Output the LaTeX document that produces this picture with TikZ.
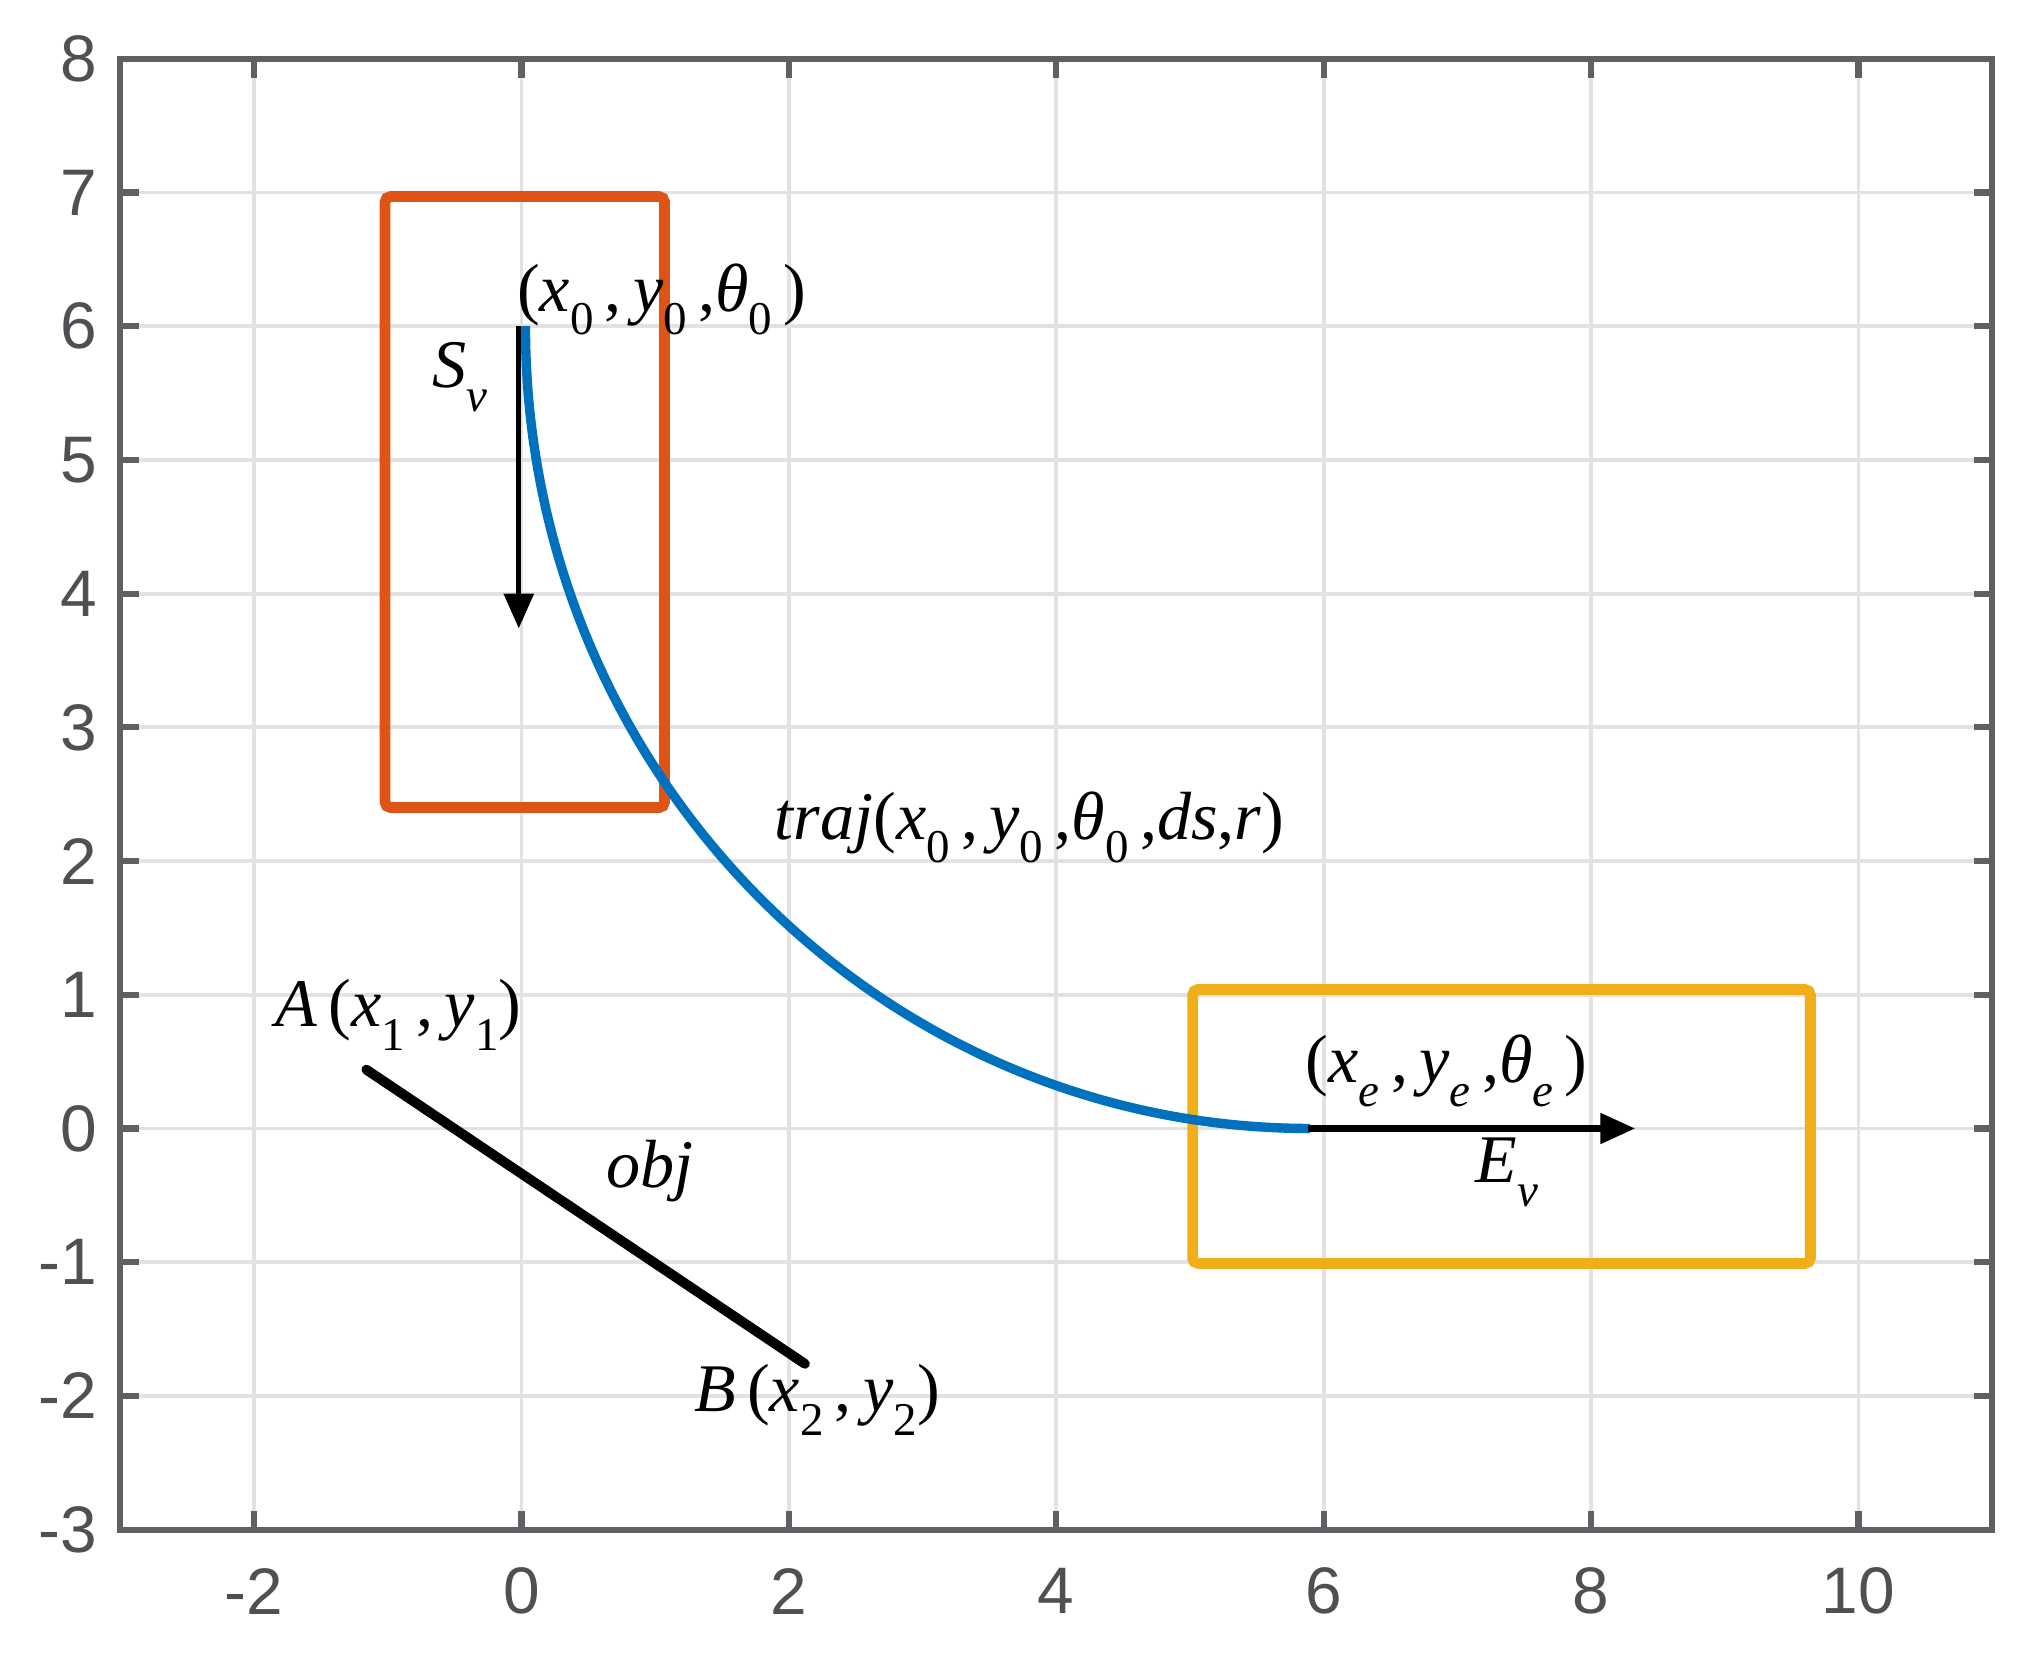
\documentclass[tikz,border=0pt]{standalone}
\usepackage{fontspec}
\newfontfamily\ticksfont{Liberation Sans}
\newfontfamily\tnr{Liberation Serif}
\usetikzlibrary{arrows.meta}
\definecolor{mblue}{RGB}{0,114,189}
\definecolor{mred}{RGB}{222,84,22}
\definecolor{myellow}{RGB}{240,175,25}
\definecolor{axgray}{RGB}{95,95,100}
\definecolor{gridgray}{RGB}{226,226,228}
\definecolor{ticklab}{RGB}{80,80,84}
\newcommand{\iv}[1]{\textit{#1}}
\newcommand{\sbs}[1]{\raisebox{-0.75ex}{\fontsize{10}{10}\selectfont #1}}
\begin{document}
\begin{tikzpicture}[x=1cm,y=1cm,
  gridline/.style={gridgray, line width=0.8pt},
  axisline/.style={axgray, line width=1.3pt},
  tickmark/.style={axgray, line width=1.3pt},
  ticklabel/.style={font=\ticksfont\fontsize{14}{16}\selectfont, text=ticklab, inner sep=0pt},
  lbl/.style={font=\tnr\fontsize{14.5}{17}\selectfont, inner sep=0pt},
  boxline/.style={line width=2.3pt, rounded corners=1.2pt},
  vecarrow/.style={-{Triangle[length=2.6mm,width=2.2mm]}, black},
]
\useasboundingbox (-3.9,-3.97) rectangle (11.32,8.44);
\fill[white] (-3.9,-3.97) rectangle (11.32,8.44);
% grid
\foreach \x in {-2,0,...,10} \draw[gridline] (\x,-3) -- (\x,8);
\foreach \y in {-2,...,7} \draw[gridline] (-3,\y) -- (11,\y);
% ticks
\foreach \x in {-2,0,...,10} {
  \draw[tickmark] (\x,-3) -- (\x,-2.86);
  \draw[tickmark] (\x,8) -- (\x,7.86);
  \node[ticklabel] (xt\x) at (\x,-3.46) {\x};
}
\foreach \y in {-2,...,7} {
  \draw[tickmark] (-3,\y) -- (-2.86,\y);
  \draw[tickmark] (11,\y) -- (10.86,\y);
}
\foreach \y in {-3,...,8} \node[ticklabel, anchor=east] (yt\y) at (-3.17,\y) {\y};
% boxes
\draw[boxline, mred] (-1.02,2.4) rectangle (1.07,6.97);
\draw[boxline, myellow] (5.02,-1.01) rectangle (9.64,1.04);
% trajectory
\coordinate (c0) at (0.03,6);
\draw[mblue, line width=2pt] (c0) arc[start angle=180, end angle=270, x radius=5.87, y radius=6] coordinate (c1);
% velocity arrows
\coordinate (s0) at (-0.02,6);
\coordinate (s1) at (-0.02,3.74);
\draw[vecarrow, line width=1pt] (s0) -- (s1);
\coordinate (e0) at (5.88,0);
\coordinate (e1) at (8.33,0);
\draw[vecarrow, line width=1.4pt] (e0) -- (e1);
% obstacle
\coordinate (A) at (-1.16,0.44);
\coordinate (B) at (2.12,-1.76);
\draw[black, line width=2.1pt, line cap=round] (A) -- (B);
% labels
\node[lbl] (p0) at (1.05,6.2) {(\iv{x}\sbs{0}\,,\,\iv{y}\sbs{0}\,,\iv{θ}\sbs{0}\,)};
\node[lbl] (sv) at (-0.46,5.62) {\iv{S}\sbs{\iv{v}}};
\node[lbl] (traj) at (3.8,2.25) {\iv{traj}(\iv{x}\sbs{0}\,,\,\iv{y}\sbs{0}\,,\iv{θ}\sbs{0}\,,\iv{ds},\iv{r})};
\node[lbl] (pe) at (6.92,0.43) {(\iv{x}\sbs{\iv{e}}\,,\,\iv{y}\sbs{\iv{e}}\,,\iv{θ}\sbs{\iv{e}}\,)};
\node[lbl] (ev) at (7.37,-0.33) {\iv{E}\sbs{\iv{v}}};
\node[lbl] (la) at (-0.92,0.85) {\iv{A}\,(\iv{x}\sbs{1}\,,\,\iv{y}\sbs{1})};
\node[lbl] (obj) at (0.96,-0.32) {\iv{obj}};
\node[lbl] (lb) at (2.21,-2.03) {\iv{B}\,(\iv{x}\sbs{2}\,,\,\iv{y}\sbs{2})};
% axes box
\draw[axisline] (-3,-3) rectangle (11,8);
\end{tikzpicture}
\end{document}
